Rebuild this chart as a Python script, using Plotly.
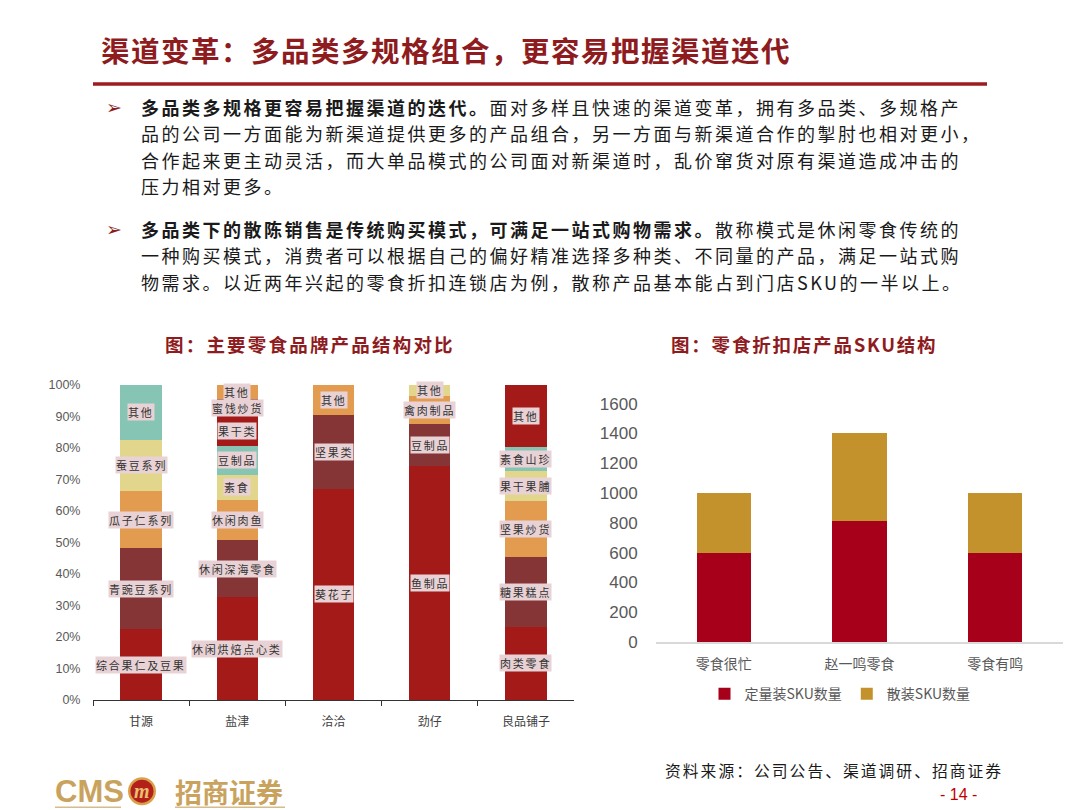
import plotly.graph_objects as go

W, H = 1080, 810

# ---------------- data: left chart (percent of products) ----------------
brands = ["甘源", "盐津", "洽洽", "劲仔", "良品铺子"]
gy_names = ["综合果仁及豆果", "青豌豆系列", "瓜子仁系列", "蚕豆系列", "其他"]
gy_values = [22.4, 25.7, 18.2, 16.2, 17.5]
yj_names = ["休闲烘焙点心类", "休闲深海零食", "休闲肉鱼", "素食", "豆制品", "果干类", "蜜饯炒货", "其他"]
yj_values = [32.6, 18.0, 12.9, 7.9, 9.1, 9.4, 5.6, 4.5]
qq_names = ["葵花子", "坚果类", "其他"]
qq_values = [67.0, 23.3, 9.7]
jz_names = ["鱼制品", "豆制品", "禽肉制品", "其他"]
jz_values = [74.3, 13.2, 8.9, 3.6]
lp_names = ["肉类零食", "糖果糕点", "坚果炒货", "果干果脯", "素食山珍", "其他"]
lp_values = [23.3, 22.2, 17.5, 9.5, 7.7, 19.8]
pct_ticks = list(range(0, 101, 10))
pct_labels = [f"{v}%" for v in pct_ticks]

# ---------------- data: right chart (SKU counts) ----------------
stores = ["零食很忙", "赵一鸣零食", "零食有鸣"]
fixed_sku = [600, 810, 600]
bulk_sku = [400, 590, 400]
sku_series = ["定量装SKU数量", "散装SKU数量"]

# ---------------- styles ----------------
seg_colors = ["#A31A18", "#853535", "#E39C4F", "#E1D68B", "#86C4B4"]
sku_colors = ["#A6001A", "#C4922C"]
DARK_RED = "#8E1B1E"
CJK = "Noto Sans CJK SC"
GRAY = "#595959"

def px(x):
    return (x - 8) / W

def py(y):
    return 1 - ((y - 18) / 0.975) / H

def sp(text, spacing):
    return f'<span style="letter-spacing:{spacing}px">{text}</span>'

fig = go.Figure()
annotations = []

stacks = [
    (brands[0], gy_names, gy_values),
    (brands[1], yj_names, yj_values),
    (brands[2], qq_names, qq_values),
    (brands[3], jz_names, jz_values),
    (brands[4], lp_names, lp_values),
]
for brand, names, vals in stacks:
    base = 0.0
    for i, (n, v) in enumerate(zip(names, vals)):
        fig.add_trace(go.Bar(
            x=[brand], y=[v], name=n, width=0.43,
            marker=dict(color=seg_colors[i % len(seg_colors)], line=dict(width=0)),
            showlegend=False, xaxis="x", yaxis="y", hoverinfo="skip",
        ))
        annotations.append(dict(
            x=brand, y=base + v / 2, xref="x", yref="y", text=sp(n, 1.8), showarrow=False,
            font=dict(family=CJK, size=11, color="#333333"),
            bgcolor="#E8D2D5", borderpad=0,
        ))
        base += v

for k, (sname, vals) in enumerate(zip(sku_series, [fixed_sku, bulk_sku])):
    fig.add_trace(go.Bar(
        x=stores, y=vals, name=sname, width=0.40,
        marker=dict(color=sku_colors[k], line=dict(width=0)),
        xaxis="x2", yaxis="y2", showlegend=True, hoverinfo="skip",
    ))

# ---------------- page texts ----------------
annotations += [
    dict(x=px(99), y=py(50), xref="paper", yref="paper", xanchor="left", yanchor="middle",
         text="<b>" + sp("渠道变革：多品类多规格组合，更容易把握渠道迭代", 1.5) + "</b>", showarrow=False,
         font=dict(family=CJK, size=28.5, color=DARK_RED)),
]

bullet_lines = [
    (108.0, sp("<b>多品类多规格更容易把握渠道的迭代。</b>面对多样且快速的渠道变革，拥有多品类、多规格产", 2.5), True),
    (134.3, sp("品的公司一方面能为新渠道提供更多的产品组合，另一方面与新渠道合作的掣肘也相对更小，", 2.5), False),
    (160.6, sp("合作起来更主动灵活，而大单品模式的公司面对新渠道时，乱价窜货对原有渠道造成冲击的", 2.5), False),
    (187.0, sp("压力相对更多。", 2.5), False),
    (229.5, sp("<b>多品类下的散陈销售是传统购买模式，可满足一站式购物需求。</b>散称模式是休闲零食传统的", 2.5), True),
    (256.0, sp("一种购买模式，消费者可以根据自己的偏好精准选择多种类、不同量的产品，满足一站式购", 2.5), False),
    (282.5, sp("物需求。以近两年兴起的零食折扣连锁店为例，散称产品基本能占到门店SKU的一半以上。", 2.5), False),
]
for yy, txt, has_bullet in bullet_lines:
    annotations.append(dict(x=px(139), y=py(yy), xref="paper", yref="paper", xanchor="left",
                            yanchor="middle", text=txt, showarrow=False,
                            font=dict(family=CJK, size=18, color="#1A1A1A")))
    if has_bullet:
        annotations.append(dict(x=px(114), y=py(yy), xref="paper", yref="paper", xanchor="center",
                                yanchor="middle", text="➢", showarrow=False,
                                font=dict(family="DejaVu Sans", size=19, color="#8A1C1C")))

annotations += [
    dict(x=px(310), y=py(344), xref="paper", yref="paper", xanchor="center", yanchor="middle",
         text="<b>" + sp("图：主要零食品牌产品结构对比", 2.2) + "</b>", showarrow=False,
         font=dict(family=CJK, size=18.5, color=DARK_RED)),
    dict(x=px(804), y=py(344), xref="paper", yref="paper", xanchor="center", yanchor="middle",
         text="<b>" + sp("图：零食折扣店产品SKU结构", 1.8) + "</b>", showarrow=False,
         font=dict(family=CJK, size=18.5, color=DARK_RED)),
    dict(x=px(1005), y=py(770), xref="paper", yref="paper", xanchor="right", yanchor="middle",
         text=sp("资料来源：公司公告、渠道调研、招商证券", 2.0), showarrow=False,
         font=dict(family=CJK, size=15.8, color="#1A1A1A")),
    dict(x=px(958), y=py(794), xref="paper", yref="paper", xanchor="center", yanchor="middle",
         text="- 14 -", showarrow=False,
         font=dict(family="Liberation Sans", size=16, color="#C00000")),
    dict(x=px(89), y=py(791), xref="paper", yref="paper", xanchor="center", yanchor="middle",
         text="<b>CMS</b>", showarrow=False,
         font=dict(family="Liberation Sans Narrow, Liberation Sans", size=31, color="#C9A35E")),
    dict(x=px(229), y=py(791), xref="paper", yref="paper", xanchor="center", yanchor="middle",
         text="<b>招商证券</b>", showarrow=False,
         font=dict(family=CJK, size=27, color="#C9A35E")),
    dict(x=px(142), y=py(791), xref="paper", yref="paper", xanchor="center", yanchor="middle",
         text="<b><i>m</i></b>", showarrow=False,
         font=dict(family="Liberation Serif", size=20, color="#E8C070")),
]

shapes = [
    dict(type="line", xref="paper", yref="paper", x0=px(93), x1=px(987), y0=py(85), y1=py(85),
         line=dict(color="#9E1B20", width=3.5)),
    dict(type="circle", xref="paper", yref="paper", x0=px(128), x1=px(156), y0=py(805), y1=py(777),
         fillcolor="#D9A24A", line=dict(width=0)),
    dict(type="circle", xref="paper", yref="paper", x0=px(130.5), x1=px(153.5), y0=py(802.5), y1=py(779.5),
         fillcolor="#B3201A", line=dict(width=0)),
    dict(type="line", xref="paper", yref="paper", x0=px(55), x1=px(121), y0=py(807), y1=py(807),
         line=dict(color="#D6BC8A", width=1.5)),
    dict(type="line", xref="paper", yref="paper", x0=px(175), x1=px(285), y0=py(807), y1=py(807),
         line=dict(color="#D6BC8A", width=1.5)),
]

fig.update_layout(
    width=W, height=H, margin=dict(l=0, r=0, t=0, b=0),
    paper_bgcolor="white", plot_bgcolor="white",
    barmode="stack", showlegend=True,
    annotations=annotations, shapes=shapes,
    xaxis=dict(domain=[px(93), px(574)], anchor="y", type="category",
               categoryorder="array", categoryarray=brands,
               showline=True, linecolor="#333333", linewidth=1.2,
               ticks="outside", tickson="boundaries", ticklen=5, tickcolor="#333333",
               ticklabelstandoff=10,
               tickfont=dict(family=CJK, size=12, color="#404040"), showgrid=False, zeroline=False),
    yaxis=dict(domain=[py(700), py(385)], anchor="x", range=[0, 100],
               tickvals=pct_ticks, ticktext=pct_labels, showgrid=False, zeroline=False, showline=False,
               ticks="outside", ticklen=9, tickcolor="rgba(0,0,0,0)",
               tickfont=dict(family="Liberation Sans", size=12.5, color=GRAY)),
    xaxis2=dict(domain=[px(656), px(1063)], anchor="y2", type="category",
                showline=True, linecolor="#D9D9D9", linewidth=1.5, ticks="",
                ticklabelstandoff=8,
                tickfont=dict(family=CJK, size=14, color=GRAY), showgrid=False, zeroline=False),
    yaxis2=dict(domain=[py(642), py(404)], anchor="x2", range=[0, 1600], dtick=200,
                showgrid=False, zeroline=False, showline=False,
                ticks="outside", ticklen=14, tickcolor="rgba(0,0,0,0)",
                tickfont=dict(family="Liberation Sans", size=17, color=GRAY)),
    legend=dict(orientation="h", x=px(840), xanchor="center", y=py(694), yanchor="middle",
                font=dict(family=CJK, size=14, color=GRAY), bgcolor="rgba(0,0,0,0)",
                itemwidth=30, traceorder="normal"),
)

fig.write_html("out.html")
